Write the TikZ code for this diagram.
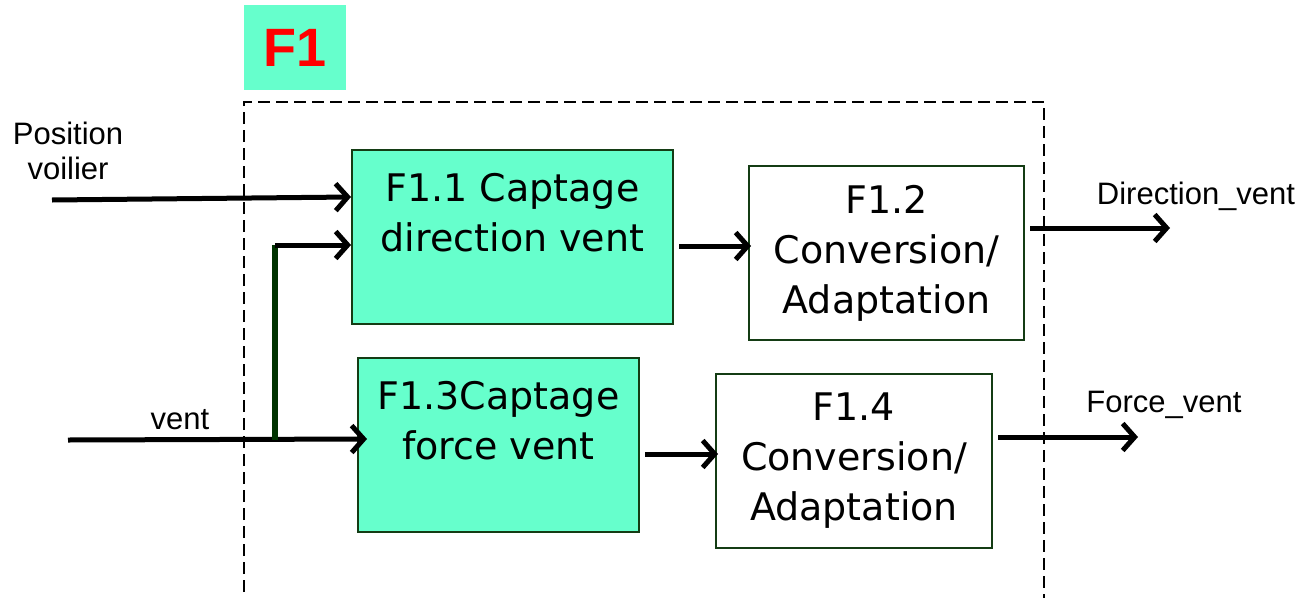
\documentclass[tikz,border=0pt]{standalone}
\usepackage{fontspec}
\setmainfont{Liberation Sans}
\newfontfamily\boxfont{DejaVu Sans}
\usetikzlibrary{arrows.meta}
\definecolor{vert}{RGB}{102,255,204}
\definecolor{bord}{RGB}{20,60,20}
\definecolor{tige}{RGB}{0,51,0}
\newcommand{\lbl}{\fontsize{31}{35}\selectfont}
\newcommand{\bxt}{\boxfont\fontsize{38}{50}\selectfont}
\begin{document}
\begin{tikzpicture}[x=1pt,y=-1pt,
  fbox/.style={rectangle,draw=bord,line width=2pt,minimum height=174pt,inner sep=0pt,align=center,font=\bxt},
  fl/.style={line width=5pt,-{Straight Barb[length=12pt,width=27pt,line width=5pt]}},
  lab/.style={font=\lbl,align=center,inner sep=0pt}]
\useasboundingbox (0,0) rectangle (1305,597);
% titre
\node [fill=vert,minimum width=102pt,minimum height=85pt,inner sep=0pt,font=\fontsize{54}{60}\selectfont\bfseries,text=red] (F1) at (295,47.5) {F1};
\draw [dashed,line width=2pt,dash pattern=on 12pt off 6pt] (244,610) -- (244,102) -- (1044,102) -- (1044,610);
% blocs
\node [fbox,fill=vert,minimum width=321pt] (F11) at (512.5,237) {F1.1 Captage\\direction vent\\~};
\node [fbox,fill=white,minimum width=275pt] (F12) at (886.5,253) {F1.2\\Conversion/\\Adaptation};
\node [fbox,fill=vert,minimum width=281pt] (F13) at (498.5,445) {F1.3Captage\\force vent\\~};
\node [fbox,fill=white,minimum width=276pt] (F14) at (854,461) {F1.4\\Conversion/\\Adaptation};
% entrees
\coordinate (pos) at (52,200);
\coordinate (vent) at (68,440);
\coordinate (pied) at (275,440);
\coordinate (coude) at (275,245);
\node [lab] (lpos) at (68,151) {Position\\voilier};
\node [lab] (lvent) at (180,420) {vent};
\draw [fl] (pos) -- ([yshift=40pt]F11.west);
\draw [fl] (vent) -- ([yshift=6pt,xshift=10pt]F13.west);
\draw [tige,line width=6pt] (pied) -- (coude);
\draw [fl] (coude) -- ([yshift=-8pt]F11.west);
\draw [fl] ([xshift=5pt,yshift=-9pt]F11.east) -- ([yshift=7pt,xshift=3pt]F12.west);
\draw [fl] ([xshift=5pt,yshift=-9pt]F13.east) -- ([yshift=7pt,xshift=3pt]F14.west);
% sorties
\coordinate (dirout) at (1170,228);
\coordinate (forout) at (1138,437);
\node [lab] (ldir) at (1196,196) {Direction\_vent};
\node [lab] (lfor) at (1164,405) {Force\_vent};
\draw [fl] ([xshift=5pt,yshift=25pt]F12.east) -- (dirout);
\draw [fl] ([xshift=5pt,yshift=24pt]F14.east) -- (forout);
\end{tikzpicture}
\end{document}
